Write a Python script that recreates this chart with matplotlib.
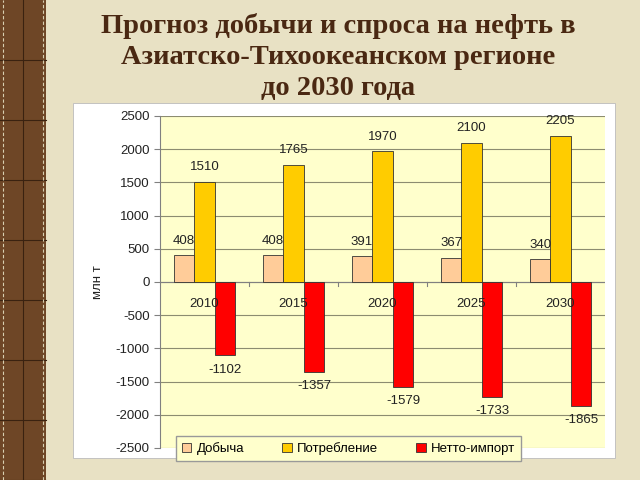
import numpy as np
import matplotlib.pyplot as plt
from matplotlib.patches import Rectangle

plt.rcParams['axes.unicode_minus'] = False

# данные прогноза, млн т
years = ['2010', '2015', '2020', '2025', '2030']
dobycha = [408, 408, 391, 367, 340]
potreblenie = [1510, 1765, 1970, 2100, 2205]
netto_import = [-1102, -1357, -1579, -1733, -1865]

series = [('Добыча', dobycha, '#FFCC99'),
          ('Потребление', potreblenie, '#FFCC00'),
          ('Нетто-импорт', netto_import, '#FF0000')]

fig = plt.figure(figsize=(6.4, 4.8), dpi=100)
fig.patch.set_facecolor('#E8E1C4')

# левая декоративная полоса
strip = Rectangle((0, 0), 46 / 640, 1, transform=fig.transFigure,
                  facecolor='#6E4626', edgecolor='none', zorder=-2)
fig.add_artist(strip)
for yy in np.arange(0.0, 1.0, 0.125):
    fig.add_artist(plt.Line2D([0, 46 / 640], [yy, yy], color='#3A2210', lw=0.8, zorder=-1))
fig.add_artist(plt.Line2D([23 / 640, 23 / 640], [0, 1], color='#3A2210', lw=0.8, zorder=-1))
for xx in [3 / 640, 43 / 640]:
    fig.add_artist(plt.Line2D([xx, xx], [0, 1], color='#D8CFB0', lw=0.8,
                              ls=(0, (3, 2)), zorder=-1))

# белая подложка диаграммы
box = Rectangle((73 / 640, 1 - 458 / 480), (615 - 73) / 640, (458 - 103) / 480,
                transform=fig.transFigure, facecolor='white', edgecolor='#BBBBBB',
                lw=0.6, zorder=-2)
fig.add_artist(box)

fig.text(338 / 640, 1 - 57 / 480,
         'Прогноз добычи и спроса на нефть в\nАзиатско-Тихоокеанском регионе\nдо 2030 года',
         ha='center', va='center', fontsize=20.5, fontweight='bold',
         family='Liberation Serif', color='#4A2812', linespacing=1.3)

ax = fig.add_axes([160 / 640, 1 - 448 / 480, (605 - 160) / 640, (448 - 116) / 480])
ax.set_facecolor('#FFFFCC')

x = np.arange(len(years))
w = 0.23
for i, (name, vals, col) in enumerate(series):
    pos = x + (i - 1) * w
    ax.bar(pos, vals, w, color=col, edgecolor='#333333', lw=0.6, label=name, zorder=3)
    for p, v in zip(pos, vals):
        off = 6 if v > 0 else -6
        ax.annotate(str(v), (p, v), xytext=(0, off), textcoords='offset points',
                    ha='center', va='bottom' if v > 0 else 'top',
                    fontsize=9.5, family='Liberation Sans', color='#222222', zorder=4)

for xi, lab in zip(x, years):
    ax.annotate(lab, (xi, 0), xytext=(0, -16), textcoords='offset points',
                ha='center', va='center', fontsize=9.5, family='Liberation Sans',
                color='#222222', zorder=4)

ax.set_xlim(-0.5, len(years) - 0.5)
ax.set_ylim(-2500, 2500)
ax.set_yticks(np.arange(-2500, 2501, 500))
ax.tick_params(axis='y', labelsize=9.5, colors='#222222', length=4, color='#808080')
for t in ax.get_yticklabels():
    t.set_family('Liberation Sans')
ax.set_xticks([])
ax.yaxis.grid(True, color='#8C8C70', lw=0.8, zorder=1)
ax.set_axisbelow(True)
for s in ['top', 'right', 'bottom']:
    ax.spines[s].set_visible(False)
ax.spines['left'].set_color('#808080')

# ось категорий по нулю с делениями на границах групп
ax.axhline(0, color='#808080', lw=0.8, zorder=2)
for b in np.arange(0.5, len(years) - 0.5, 1):
    ax.plot([b, b], [0, -60], color='#808080', lw=0.8, zorder=2)

ax.set_ylabel('млн т', fontsize=9.5, family='Liberation Sans', color='#222222', labelpad=8)

leg = ax.legend(loc='lower left',
                bbox_to_anchor=(176 / 640, 1 - 461 / 480, 345 / 640, 24 / 480),
                bbox_transform=fig.transFigure, mode='expand', borderaxespad=0, ncol=3,
                frameon=True, fancybox=False, fontsize=9.5, handlelength=0.7,
                handleheight=0.7, handletextpad=0.4, borderpad=0.45)
leg.get_frame().set_facecolor('#FFFFCC')
leg.get_frame().set_edgecolor('#999999')
leg.get_frame().set_alpha(1)
leg.set_zorder(5)
for t in leg.get_texts():
    t.set_family('Liberation Sans')

fig.savefig('out.png', dpi=100, facecolor=fig.get_facecolor())
